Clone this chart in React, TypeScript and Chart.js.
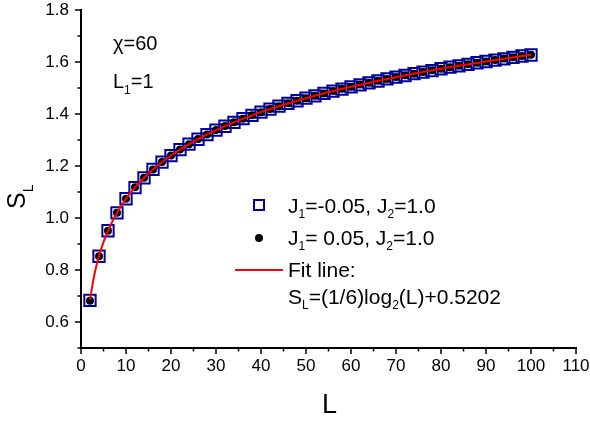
import { useEffect, useRef } from 'react';
import { Chart, registerables } from 'chart.js';
Chart.register(...registerables);

const FONT = '"Liberation Sans", Arial, sans-serif';

const L_VALUES = [2, 4, 6, 8, 10, 12, 14, 16, 18, 20, 22, 24, 26, 28, 30, 32, 34, 36, 38, 40, 42, 44, 46, 48, 50, 52, 54, 56, 58, 60, 62, 64, 66, 68, 70, 72, 74, 76, 78, 80, 82, 84, 86, 88, 90, 92, 94, 96, 98, 100];
const S_SQUARES = [0.683, 0.853, 0.951, 1.020, 1.074, 1.117, 1.154, 1.187, 1.215, 1.240, 1.263, 1.284, 1.303, 1.321, 1.338, 1.353, 1.368, 1.382, 1.395, 1.407, 1.419, 1.430, 1.441, 1.451, 1.461, 1.470, 1.479, 1.488, 1.496, 1.504, 1.512, 1.520, 1.527, 1.535, 1.542, 1.548, 1.555, 1.561, 1.567, 1.574, 1.580, 1.585, 1.591, 1.597, 1.602, 1.607, 1.612, 1.618, 1.623, 1.627];
const S_DOTS = [0.682, 0.853, 0.951, 1.020, 1.074, 1.118, 1.155, 1.187, 1.215, 1.240, 1.263, 1.284, 1.304, 1.321, 1.338, 1.354, 1.368, 1.382, 1.395, 1.407, 1.419, 1.430, 1.441, 1.451, 1.461, 1.470, 1.479, 1.488, 1.497, 1.505, 1.513, 1.520, 1.528, 1.535, 1.542, 1.549, 1.555, 1.562, 1.568, 1.574, 1.580, 1.586, 1.591, 1.597, 1.602, 1.608, 1.613, 1.618, 1.623, 1.628];

const FIT_L = [2, 3, 4, 5, 6, 7, 8, 10, 12, 14, 16, 20, 25, 30, 40, 50, 60, 70, 80, 90, 100];
const FIT_S = [0.6869, 0.7844, 0.8535, 0.9072, 0.9510, 0.9881, 1.0202, 1.0739, 1.1177, 1.1547, 1.1869, 1.2405, 1.2942, 1.3380, 1.4072, 1.4608, 1.5047, 1.5417, 1.5739, 1.6022, 1.6275];

const X_MAJOR = [0, 10, 20, 30, 40, 50, 60, 70, 80, 90, 100, 110];
const X_MINOR = [5, 15, 25, 35, 45, 55, 65, 75, 85, 95, 105];
const Y_MAJOR = [0.6, 0.8, 1.0, 1.2, 1.4, 1.6, 1.8];
const Y_MINOR = [0.5, 0.7, 0.9, 1.1, 1.3, 1.5, 1.7];

type Part = [string, boolean?];

function drawRich(ctx: CanvasRenderingContext2D, parts: Part[], x: number, y: number, size: number, subSize: number, drop: number) {
  let cx = x;
  for (const [t, sub] of parts) {
    ctx.font = `${sub ? subSize : size}px ${FONT}`;
    ctx.fillText(t, cx, y + (sub ? drop : 0));
    cx += ctx.measureText(t).width;
  }
}

const decor = {
  id: 'decor',
  afterDraw(chart: any) {
    const ctx: CanvasRenderingContext2D = chart.ctx;
    const xs = chart.scales.x;
    const ys = chart.scales.y;
    const area = chart.chartArea;
    ctx.save();
    ctx.strokeStyle = '#000';
    ctx.lineWidth = 1.5;
    ctx.beginPath();
    for (const v of X_MAJOR) { const p = xs.getPixelForValue(v); ctx.moveTo(p, area.bottom); ctx.lineTo(p, area.bottom + 6); }
    for (const v of X_MINOR) { const p = xs.getPixelForValue(v); ctx.moveTo(p, area.bottom); ctx.lineTo(p, area.bottom + 3.5); }
    for (const v of Y_MAJOR) { const p = ys.getPixelForValue(v); ctx.moveTo(area.left, p); ctx.lineTo(area.left - 6, p); }
    for (const v of Y_MINOR) { const p = ys.getPixelForValue(v); ctx.moveTo(area.left, p); ctx.lineTo(area.left - 3.5, p); }
    ctx.stroke();

    ctx.fillStyle = '#000';
    ctx.textBaseline = 'alphabetic';
    ctx.textAlign = 'left';
    // annotations
    drawRich(ctx, [['χ=60']], 113, 50, 20, 12, 5);
    drawRich(ctx, [['L'], ['1', true], ['=1']], 113, 88, 20, 12, 6);

    // legend
    ctx.strokeStyle = '#0000A0';
    ctx.lineWidth = 2;
    ctx.strokeRect(259 - 5, 205 - 5, 10, 10);
    ctx.fillStyle = '#000';
    ctx.beginPath();
    ctx.arc(259, 238, 4, 0, Math.PI * 2);
    ctx.fill();
    ctx.strokeStyle = '#FF0000';
    ctx.beginPath();
    ctx.moveTo(235, 270);
    ctx.lineTo(283, 270);
    ctx.stroke();

    drawRich(ctx, [['J'], ['1', true], ['=-0.05, J'], ['2', true], ['=1.0']], 288, 213, 21, 12, 5);
    drawRich(ctx, [['J'], ['1', true], ['= 0.05, J'], ['2', true], ['=1.0']], 288, 245, 21, 12, 5);
    drawRich(ctx, [['Fit line:']], 288, 277, 21, 12, 5);
    drawRich(ctx, [['S'], ['L', true], ['=(1/6)log'], ['2', true], ['(L)+0.5202']], 288, 304, 21, 12, 5);

    // axis titles
    drawRich(ctx, [['L']], 322, 413, 27, 14, 6);
    ctx.save();
    ctx.translate(25, 209);
    ctx.rotate(-Math.PI / 2);
    drawRich(ctx, [['S'], ['L', true]], 0, 0, 25, 14, 8);
    ctx.restore();
    ctx.restore();
  },
};

export default function App() {
  const ref = useRef<HTMLCanvasElement | null>(null);
  useEffect(() => {
    if (!ref.current) return;
    const chart = new Chart(ref.current, {
      type: 'scatter',
      data: {
        datasets: [
          {
            label: 'fit',
            data: FIT_L.map((x, i) => ({ x, y: FIT_S[i] })),
            showLine: true,
            pointRadius: 0,
            borderColor: '#FF0000',
            borderWidth: 2,
            cubicInterpolationMode: 'monotone',
            order: 0,
          },
          {
            label: 'dots',
            data: L_VALUES.map((x, i) => ({ x, y: S_DOTS[i] })),
            pointStyle: 'circle',
            pointRadius: 4,
            backgroundColor: '#000',
            borderWidth: 0,
            order: 1,
          },
          {
            label: 'squares',
            data: L_VALUES.map((x, i) => ({ x, y: S_SQUARES[i] })),
            pointStyle: 'rect',
            pointRadius: 8,
            backgroundColor: 'rgba(0,0,0,0)',
            borderColor: '#0000A0',
            borderWidth: 2,
            order: 2,
          },
        ] as any,
      },
      options: {
        animation: false,
        responsive: false,
        devicePixelRatio: 1,
        layout: { padding: { top: 6, right: 14, left: 0, bottom: 0 } },
        plugins: { legend: { display: false }, tooltip: { enabled: false } },
        scales: {
          x: {
            type: 'linear',
            min: 0,
            max: 110,
            afterBuildTicks: (s: any) => { s.ticks = X_MAJOR.map((v) => ({ value: v })); },
            afterFit: (s: any) => { s.height = 75; s.paddingLeft = 0; s.paddingRight = 0; },
            ticks: { font: { size: 17, family: FONT }, color: '#000', padding: 8, maxRotation: 0, autoSkip: false, callback: (v: any) => String(v) },
            grid: { display: false, drawTicks: false },
            border: { display: true, color: '#000', width: 2 },
          },
          y: {
            type: 'linear',
            min: 0.5,
            max: 1.8,
            afterBuildTicks: (s: any) => { s.ticks = Y_MAJOR.map((v) => ({ value: v })); },
            afterFit: (s: any) => { s.width = 81; s.paddingTop = 0; s.paddingBottom = 0; },
            ticks: { font: { size: 17, family: FONT }, color: '#000', padding: 12, autoSkip: false, callback: (v: any) => Number(v).toFixed(1) },
            grid: { display: false, drawTicks: false },
            border: { display: true, color: '#000', width: 2 },
          },
        },
      } as any,
      plugins: [decor],
    });
    return () => chart.destroy();
  }, []);
  return (
    <div style={{ position: 'fixed', left: 0, top: 0, width: 590, height: 423, background: '#fff' }}>
      <canvas ref={ref} width={590} height={423} style={{ display: 'block' }} />
    </div>
  );
}
